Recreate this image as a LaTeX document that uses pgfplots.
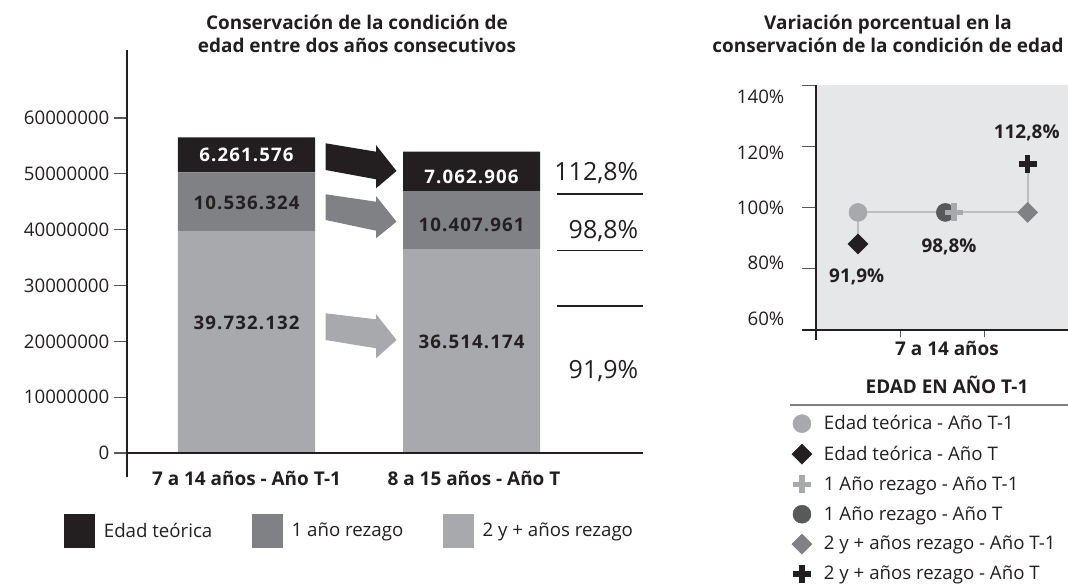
\documentclass[border=0pt]{standalone}
\usepackage{fontspec}
\setmainfont{Open Sans}
\newfontfamily\lblfont[LetterSpace=6]{Open Sans}
\usepackage{pgfplots}
\pgfplotsset{compat=1.18}
\definecolor{cA}{HTML}{231F20}
\definecolor{cB}{HTML}{808184}
\definecolor{cC}{HTML}{A7A9AC}
\definecolor{cD}{HTML}{58595B}
\definecolor{bgR}{HTML}{E6E7E8}
\definecolor{lnR}{HTML}{BCBEC0}

\newcommand\reg{\fontsize{14}{16}\selectfont}
\newcommand\bld{\bfseries\fontsize{14.2}{17.25}\selectfont}

\begin{document}
\begin{tikzpicture}[x=0.75pt,y=0.75pt]
\useasboundingbox (0pt,0pt) rectangle (801pt,437.25pt);

% ---------- left: stacked bars ----------
\begin{axis}[
  at={(95.25pt,79.5pt)}, anchor=south west,
  scale only axis, width=387pt, height=320.25pt,
  xmin=-0.531, xmax=1.762,
  ymin=-4300000, ymax=72180000,
  ybar stacked, bar width=0.609,
  axis line style={draw=none},
  xtick=\empty,
  ytick={0,10000000,20000000,30000000,40000000,50000000,60000000},
  yticklabels={0,10000000,20000000,30000000,40000000,50000000,60000000},
  scaled y ticks=false,
  ytick pos=left, tick align=outside,
  major tick length=9.75pt,
  ytick style={cD, line width=0.9pt},
  yticklabel style={font=\reg, text=cA},
  clip=false,
  legend columns=3, reverse legend,
  legend image code/.code={\fill[#1] (0pt,-13.1pt) rectangle (23.25pt,13.1pt);},
  legend style={at={(axis description cs:-0.1221,-0.1265)}, anchor=west,
    draw=none, fill=none, inner sep=0pt, font=\reg, text=cA,
    /tikz/every odd column/.append style={column sep=4.5pt},
    /tikz/every even column/.append style={column sep=27.75pt}},
]
\addplot[fill=cC, draw=none] coordinates {(0,39732132) (1,36514174)};
\addplot[fill=cB, draw=none] coordinates {(0,10536324) (1,10407961)};
\addplot[fill=cA, draw=none] coordinates {(0,6261576) (1,7062906)};
\legend{2 y + años rezago, 1 año rezago, Edad teórica}
\end{axis}

% ---------- right: percentage variation ----------
\begin{axis}[
  at={(612pt,189.75pt)}, anchor=south west,
  scale only axis, width=189pt, height=183.75pt,
  xmin=0, xmax=3, ymin=60, ymax=140,
  axis background/.style={fill=bgR},
  axis line style={draw=none},
  xtick=\empty,
  ytick={60,80,100,120,140}, yticklabels={},
  ytick pos=left, tick align=outside,
  major tick length=10.5pt,
  ytick style={cD, line width=0.75pt},
  clip=false,
  legend style={at={(axis description cs:-0.0964,-0.337)}, anchor=north west,
    draw=none, fill=none, inner sep=0pt, font=\reg, text=cA,
    row sep=6.65pt, cells={anchor=west},
    /tikz/every odd column/.append style={column sep=7pt}},
]
\addplot[lnR, line width=1.5pt, forget plot] coordinates {(0.5,88.1) (0.5,98.4) (2.52,98.4) (2.52,114.2)};
\addplot[only marks, mark=*, mark size=6.75pt, cC, forget plot] coordinates {(0.5,98.4)};
\addplot[only marks, mark=square*, mark size=5.3pt, mark options={rotate=45}, cA, forget plot] coordinates {(0.5,88.1)};
\addplot[only marks, mark=*, mark size=6.75pt, cD, forget plot] coordinates {(1.54,98.4)};
\addplot[only marks, mark=+, mark size=6.75pt, mark options={line width=4.2pt}, cC, forget plot] coordinates {(1.64,98.4)};
\addplot[only marks, mark=square*, mark size=5.3pt, mark options={rotate=45}, cB, forget plot] coordinates {(2.52,98.4)};
\addplot[only marks, mark=+, mark size=6.75pt, mark options={line width=4.2pt}, cA, forget plot] coordinates {(2.52,114.2)};
\addlegendimage{only marks, mark=*, mark size=6.75pt, cC}
\addlegendentry{Edad teórica - Año T-1}
\addlegendimage{only marks, mark=square*, mark size=5.3pt, mark options={rotate=45}, cA}
\addlegendentry{Edad teórica - Año T}
\addlegendimage{only marks, mark=+, mark size=6.75pt, mark options={line width=4.2pt}, cC}
\addlegendentry{1 Año rezago - Año T-1}
\addlegendimage{only marks, mark=*, mark size=6.75pt, cD}
\addlegendentry{1 Año rezago - Año T}
\addlegendimage{only marks, mark=square*, mark size=5.3pt, mark options={rotate=45}, cB}
\addlegendentry{2 y + años rezago - Año T-1}
\addlegendimage{only marks, mark=+, mark size=6.75pt, mark options={line width=4.2pt}, cA}
\addlegendentry{2 y + años rezago - Año T}
\draw[cD, line width=0.75pt] (axis cs:1,60) -- ++(0pt,-5.25pt);
\draw[cD, line width=0.75pt] (axis cs:2,60) -- ++(0pt,-5.25pt);
\end{axis}

% everything below in pixel coordinates, y measured from the top
\begin{scope}[shift={(0pt,437.25pt)}, x=0.75pt, y=-0.75pt]
% axis lines
\draw[cA, line width=1.9pt] (127,50) -- (127,477);
\draw[cA, line width=1.9pt] (127,453) -- (643,453);

% arrows
\fill[cA] (325.7,143.3) -- (376,151.7) -- (376,145) -- (396.5,171) -- (376,188.3) -- (376,179.3) -- (325.7,170) -- cycle;
\fill[cB] (325.7,194.3) -- (376,201.7) -- (376,196) -- (396.5,221.7) -- (376,238.3) -- (376,230.7) -- (325.7,220) -- cycle;
\fill[cC] (325.7,313.3) -- (376,319.3) -- (376,314) -- (396.5,340) -- (376,358.3) -- (376,348.3) -- (325.7,340) -- cycle;

% bar labels
\begin{scope}[every node/.style={font=\lblfont\bfseries\fontsize{14}{16}\selectfont}]
\node[text=white] at (246.5,155) {6.261.576};
\node[text=cA] at (246.5,203.3) {10.536.324};
\node[text=cA] at (246.5,323) {39.732.132};
\node[text=white] at (471.5,176.7) {7.062.906};
\node[text=cA] at (471.5,225) {10.407.961};
\node[text=cA] at (471.5,341.7) {36.514.174};
\end{scope}

% percentages beside bars
\begin{scope}[every node/.style={font=\fontsize{18.75}{20}\selectfont, text=cA, anchor=east}]
\node at (643,173) {112,8\%};
\node at (643,231) {98,8\%};
\node at (643,371) {91,9\%};
\end{scope}
\draw[cA, line width=0.9pt] (557,194) -- (643,194);
\draw[cA, line width=0.9pt] (557,250.5) -- (643,250.5);
\draw[cA, line width=0.9pt] (557,306) -- (643,306);

% x labels and title
\node[font=\bld, text=cA] at (246.5,478) {7 a 14 años - Año T-1};
\node[font=\bld, text=cA] at (474,478) {8 a 15 años - Año T};
\node[font=\bld, text=cA, align=center] at (357,33.5) {Conservación de la condición de\\edad entre dos años consecutivos};

% right chart lines and texts
\draw[cA, line width=1.9pt] (816,85) -- (816,340);
\draw[cA, line width=1.9pt] (802,330) -- (1068,330);
\begin{scope}[every node/.style={font=\reg, text=cA, anchor=east}]
\node at (789,96.7) {140\%};
\node at (789,152.7) {120\%};
\node at (789,208.3) {100\%};
\node at (789,263.3) {80\%};
\node at (789,319.3) {60\%};
\end{scope}
\node[font=\bld, text=cA] at (1026.7,132.7) {112,8\%};
\node[font=\bld, text=cA] at (949,247) {98,8\%};
\node[font=\bld, text=cA] at (856.7,277) {91,9\%};
\node[font=\bld, text=cA] at (947,348) {7 a 14 años};
\node[font=\bld, text=cA, align=center] at (888,33.5) {Variación porcentual en la\\conservación de la condición de edad};
\node[font=\bld, text=cA] at (947,385) {EDAD EN AÑO T-1};
\draw[cB, line width=1.1pt] (790,405) -- (1068,405);
\end{scope}
\end{tikzpicture}
\end{document}
